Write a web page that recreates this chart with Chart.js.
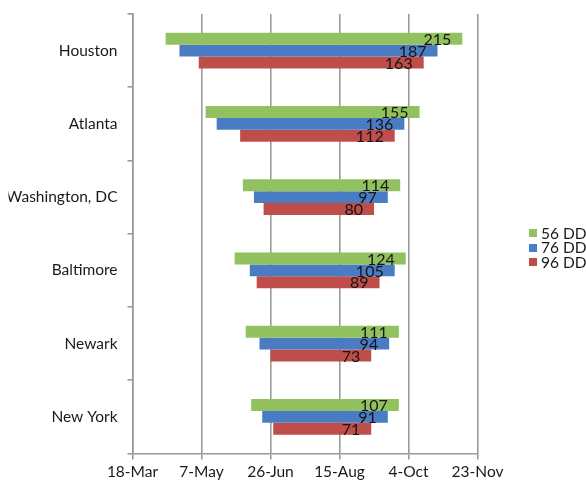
<!DOCTYPE html>
<html>
<head>
<meta charset="utf-8">
<script src="https://cdn.jsdelivr.net/npm/chart.js@4/dist/chart.umd.min.js"></script>
<style>
  html, body { margin: 0; padding: 0; background: #fff; }
  #wrap { position: relative; width: 586px; height: 487px; }
  #chart { position: absolute; left: 0; top: 0; }
  #legend {
    position: absolute; left: 529px; top: 226px;
    font-family: Lato, "Open Sans", sans-serif; font-size: 15.5px; color: #1a1a1a;
    line-height: 14.4px;
  }
  #legend .item { display: flex; align-items: center; white-space: nowrap; }
  #legend .box { width: 8px; height: 8px; margin-right: 4px; flex: none; }
</style>
</head>
<body>
<div id="wrap">
  <canvas id="chart" width="586" height="487"></canvas>
  <div id="legend"></div>
</div>
<script>
// Cities, top to bottom
const cities = ['Houston', 'Atlanta', 'Washington, DC', 'Baltimore', 'Newark', 'New York'];

// Season start date for each degree-day threshold
const start56 = ['11-Apr', '10-May', '6-Jun', '31-May', '8-Jun', '12-Jun'];
const start76 = ['21-Apr', '18-May', '14-Jun', '11-Jun', '18-Jun', '20-Jun'];
const start96 = ['5-May', '4-Jun', '21-Jun', '16-Jun', '26-Jun', '28-Jun'];

// Season length in days (the number printed on each bar)
const days56 = [215, 155, 114, 124, 111, 107];
const days76 = [187, 136, 97, 105, 94, 91];
const days96 = [163, 112, 80, 89, 73, 71];

const seriesNames = ['56 DD', '76 DD', '96 DD'];
const tickLabels = ['18-Mar', '7-May', '26-Jun', '15-Aug', '4-Oct', '23-Nov'];

const MONTHS = ['Jan','Feb','Mar','Apr','May','Jun','Jul','Aug','Sep','Oct','Nov','Dec'];
// "18-Mar" -> day of year (non-leap year)
function dayOfYear(label) {
  const [d, m] = label.split('-');
  const t = Date.UTC(2013, MONTHS.indexOf(m), +d);
  return Math.round((t - Date.UTC(2013, 0, 0)) / 864e5);
}
const tickDays = tickLabels.map(dayOfYear);

function spans(starts, lengths) {
  return starts.map((s, i) => {
    const a = dayOfYear(s);
    return [a, a + lengths[i]];
  });
}

const colors = ['#92C25F', '#4A7CC3', '#BF4E4B'];
const allDays = [days56, days76, days96];
const FONT = 'Lato, "Open Sans", sans-serif';

// Duration labels at the right end of each bar
const endLabels = {
  id: 'endLabels',
  afterDatasetsDraw(chart) {
    const ctx = chart.ctx;
    ctx.save();
    ctx.font = '16px ' + FONT;
    ctx.fillStyle = '#151515';
    ctx.textAlign = 'right';
    ctx.textBaseline = 'middle';
    chart.data.datasets.forEach((ds, di) => {
      const meta = chart.getDatasetMeta(di);
      meta.data.forEach((el, i) => {
        const right = Math.max(el.x, el.base);
        ctx.fillText(String(allDays[di][i]), right - 11, el.y + 1);
      });
    });
    ctx.restore();
  }
};

const chart = new Chart(document.getElementById('chart'), {
  type: 'bar',
  data: {
    labels: cities,
    datasets: [
      { label: seriesNames[0], data: spans(start56, days56), backgroundColor: colors[0] },
      { label: seriesNames[1], data: spans(start76, days76), backgroundColor: colors[1] },
      { label: seriesNames[2], data: spans(start96, days96), backgroundColor: colors[2] }
    ]
  },
  options: {
    indexAxis: 'y',
    responsive: false,
    animation: false,
    layout: { padding: { left: 8.5, right: 108.5, top: 14, bottom: 0 } },
    datasets: { bar: { categoryPercentage: 0.49, barPercentage: 1.0, borderWidth: 0 } },
    plugins: { legend: { display: false }, tooltip: { enabled: false } },
    scales: {
      x: {
        type: 'linear',
        min: tickDays[0],
        max: tickDays[tickDays.length - 1],
        afterBuildTicks: s => { s.ticks = tickDays.map(v => ({ value: v })); },
        afterFit: s => { s.height = 33.5; s.paddingLeft = 0; s.paddingRight = 0; },
        grid: { color: '#9a9a9a', lineWidth: 1.6, tickLength: 6, drawTicks: true },
        border: { color: '#9a9a9a', width: 1.6 },
        ticks: {
          padding: 3,
          color: '#1a1a1a',
          font: { family: FONT, size: 15.5 },
          maxRotation: 0,
          autoSkip: false,
          callback: v => tickLabels[tickDays.indexOf(v)]
        }
      },
      y: {
        type: 'category',
        afterFit: s => { s.width = 124; s.paddingTop = 0; s.paddingBottom = 0; },
        grid: { offset: true, drawOnChartArea: false, drawTicks: true, tickLength: 5, color: '#9a9a9a', lineWidth: 1.6 },
        border: { color: '#9a9a9a', width: 1.6 },
        ticks: {
          padding: 10,
          color: '#1a1a1a',
          font: { family: FONT, size: 15.5 }
        }
      }
    }
  },
  plugins: [endLabels]
});

// Legend built from the chart's datasets
const legend = document.getElementById('legend');
chart.data.datasets.forEach(ds => {
  const item = document.createElement('div');
  item.className = 'item';
  const box = document.createElement('span');
  box.className = 'box';
  box.style.background = ds.backgroundColor;
  const txt = document.createElement('span');
  txt.textContent = ds.label;
  item.appendChild(box);
  item.appendChild(txt);
  legend.appendChild(item);
});
</script>
</body>
</html>
